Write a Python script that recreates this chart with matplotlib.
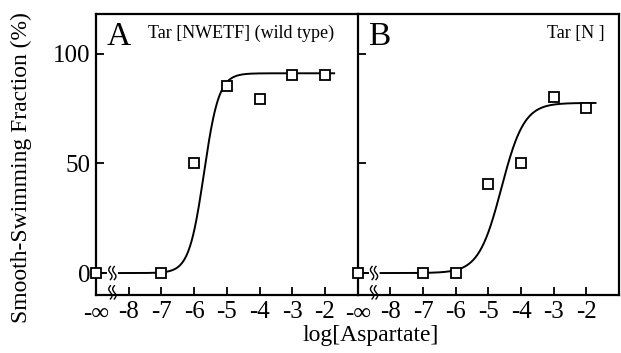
import numpy as np
import matplotlib.pyplot as plt

# measured points (x = log[Aspartate]; -9 stands for -infinity)
x_a = [-9, -7, -6, -5, -4, -3, -2]
y_a = [0, 0, 50, 85, 79.5, 90, 90]
x_b = [-9, -7, -6, -5, -4, -3, -2]
y_b = [0, 0, 0, 40.5, 50, 80, 75]

# fitted Hill curves: (top, logEC50, hill slope)
fit_a = (91.0, -5.7, 1.9)
fit_b = (77.5, -4.6, 1.25)

xtick_pos = [-9, -8, -7, -6, -5, -4, -3, -2]
xtick_lab = ["-\u221e", "-8", "-7", "-6", "-5", "-4", "-3", "-2"]
ytick_pos = [0, 50, 100]

plt.rcParams["font.family"] = ["Liberation Serif", "DejaVu Serif"]


def hill(x, top, ec50, n):
    return top / (1 + 10 ** ((ec50 - x) * n))


def draw_break(ax, x0, y0):
    t = np.linspace(-1, 1, 40)
    for dx in (-0.06, 0.06):
        ax.plot(x0 + dx - 0.05 * np.sin(t * np.pi), y0 + 3.0 * t,
                color="black", lw=1.0, clip_on=False, zorder=5)


def panel(ax, xs, ys, fit, label, title, title_ha):
    top, ec50, n = fit
    xc = np.linspace(-8.3, -1.72, 300)
    ax.plot(xc, hill(xc, top, ec50, n), color="black", lw=1.4)
    ax.plot([-9, -8.68], [0, 0], color="black", lw=1.4)
    draw_break(ax, -8.5, 0)
    draw_break(ax, -8.5, -8.8)
    ax.plot(xs, ys, ls="none", marker="s", ms=7.5, mfc="white",
            mec="black", mew=1.3, clip_on=False, zorder=6)
    ax.set_xlim(-9, -1)
    ax.set_ylim(-10, 118)
    ax.set_xticks(xtick_pos[1:])
    ax.set_xticklabels(xtick_lab[1:], fontsize=18)
    ax.set_yticks(ytick_pos)
    ax.tick_params(direction="in", length=6, width=1.3, pad=4)
    for s in ax.spines.values():
        s.set_linewidth(1.6)
    ax.text(-8.68, 104, label, fontsize=24, va="baseline", ha="left")
    if title_ha == "left":
        ax.text(-7.4, 107, title, fontsize=13, ha="left", va="baseline")
    else:
        ax.text(-1.45, 107, title, fontsize=13, ha="right", va="baseline")
    # -inf label at the left spine
    ax.text(-9, -13.5, xtick_lab[0], fontsize=18, ha="center", va="top")


fig = plt.figure(figsize=(6.21, 3.53), dpi=100)
ax_a = fig.add_axes([0.1546, 0.1643, 0.4214, 0.796])
ax_b = fig.add_axes([0.576, 0.1643, 0.4208, 0.796])

panel(ax_a, x_a, y_a, fit_a, "A", "Tar [NWETF] (wild type)", "left")
panel(ax_b, x_b, y_b, fit_b, "B", "Tar [N ]", "right")

ax_a.spines["right"].set_visible(False)
ax_a.set_yticklabels([str(v) for v in ytick_pos], fontsize=18)
ax_b.set_yticklabels([])
fig.text(0.035, 0.525, "Smooth-Swimming Fraction (%)", fontsize=17,
         rotation=90, ha="center", va="center")
fig.text(0.597, 0.02, "log[Aspartate]", fontsize=17, ha="center",
         va="bottom")

fig.savefig("out.png", dpi=100)
